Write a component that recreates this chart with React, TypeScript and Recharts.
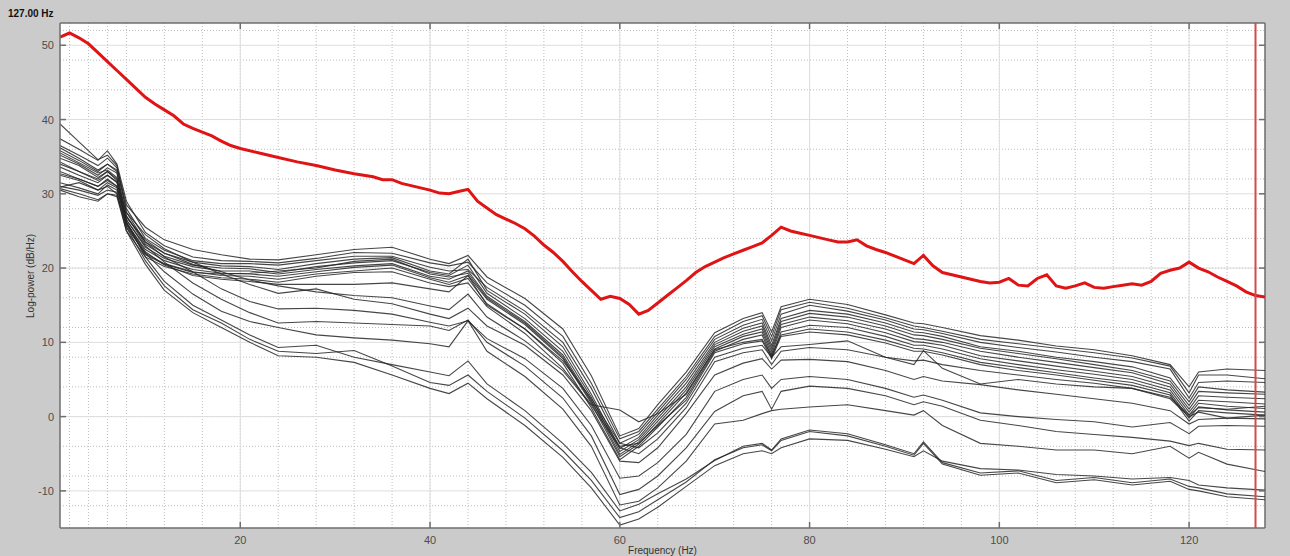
import React from 'react';
import { LineChart, Line, XAxis, YAxis, CartesianGrid, ReferenceLine } from 'recharts';

// Frequencies (Hz) at which the channel spectra are sampled
const freqs = [1, 3, 5, 6, 7, 8, 10, 12, 15, 18, 21, 24, 28, 32, 36, 40, 42, 44, 46, 50, 54, 57, 60, 62, 64, 67, 70, 73, 75, 76, 77, 80, 84, 88, 91, 92, 94, 98, 102, 106, 110, 114, 118, 120, 121, 124, 128];

// Channel log-power spectra (dB/Hz)
const ch01 = [36.5, 35.2, 33.8, 34.8, 33.5, 28.5, 25.5, 23.8, 22.5, 21.8, 21.2, 21.1, 21.8, 22.5, 22.8, 21.2, 20.6, 21.7, 18.8, 15.9, 11.8, 5.5, -2.6, -1.6, 1.6, 6.0, 11.3, 13.2, 14.0, 11.4, 14.8, 15.8, 15.1, 13.7, 12.6, 12.5, 12.0, 10.9, 10.3, 9.5, 9.0, 8.2, 7.0, 4.0, 6.0, 6.4, 6.2];
const ch02 = [37.4, 36.0, 34.5, 35.8, 34.0, 29.0, 24.8, 23.0, 21.5, 21.0, 20.9, 20.7, 21.3, 22.1, 22.0, 20.7, 20.3, 20.8, 18.0, 15.0, 10.8, 4.5, -3.0, -2.0, 1.0, 5.4, 10.8, 12.8, 13.6, 10.8, 14.4, 15.4, 14.6, 13.3, 12.2, 12.0, 11.5, 10.4, 9.8, 9.2, 8.6, 7.9, 6.8, 3.2, 5.6, 5.6, 5.1];
const ch03 = [35.8, 34.5, 33.0, 34.0, 33.2, 28.0, 24.0, 22.4, 21.0, 20.6, 20.6, 20.4, 21.0, 21.6, 21.6, 20.1, 19.6, 19.8, 17.4, 14.2, 10.0, 3.8, -3.6, -2.4, 0.6, 5.0, 10.4, 12.3, 13.1, 10.2, 13.8, 15.0, 14.2, 13.0, 11.8, 11.7, 11.2, 10.0, 9.3, 8.7, 8.0, 7.4, 6.4, 2.5, 4.6, 4.8, 4.6];
const ch04 = [39.4, 37.0, 34.6, 35.2, 33.8, 27.5, 23.5, 22.0, 20.8, 20.3, 20.2, 19.8, 20.6, 21.2, 21.4, 19.6, 19.2, 21.2, 17.0, 13.8, 9.4, 3.0, -4.3, -2.8, 0.2, 4.5, 10.0, 11.9, 12.6, 9.6, 13.2, 14.3, 13.8, 12.6, 11.4, 11.3, 10.8, 9.4, 8.8, 8.0, 7.4, 6.7, 5.2, 2.0, 4.0, 3.6, 3.3];
const ch05 = [35.2, 34.0, 32.5, 33.5, 32.8, 27.0, 23.2, 21.6, 20.4, 20.0, 19.9, 19.4, 20.2, 20.7, 21.0, 19.4, 19.0, 20.4, 16.6, 13.2, 8.8, 2.6, -4.7, -3.1, -0.2, 4.0, 9.7, 11.5, 12.2, 9.2, 12.8, 13.9, 13.4, 12.2, 11.0, 10.9, 10.4, 9.2, 8.5, 7.8, 7.0, 6.2, 4.8, 1.5, 3.4, 3.2, 3.0];
const ch06 = [34.3, 33.0, 32.0, 33.0, 32.0, 26.5, 22.8, 21.3, 20.2, 19.6, 19.6, 19.2, 19.8, 20.3, 20.6, 18.9, 18.5, 19.6, 16.2, 12.8, 8.3, 2.2, -5.1, -3.4, -0.6, 3.6, 9.4, 11.1, 11.8, 8.8, 12.4, 13.4, 12.9, 11.8, 10.5, 10.4, 10.0, 8.8, 8.0, 7.3, 6.6, 5.9, 4.4, 1.0, 2.8, 2.6, 2.4];
const ch07 = [33.6, 32.5, 31.5, 32.5, 31.6, 26.0, 22.5, 21.0, 19.8, 19.3, 19.2, 18.9, 19.5, 20.1, 20.4, 18.7, 18.1, 19.0, 15.8, 12.4, 7.8, 1.8, -5.4, -3.7, -1.0, 3.2, 9.1, 10.8, 11.4, 8.4, 12.0, 13.0, 12.5, 11.3, 10.1, 10.0, 9.6, 8.2, 7.5, 6.8, 6.1, 5.4, 4.0, 0.6, 2.2, 2.0, 1.7];
const ch08 = [32.7, 32.0, 31.0, 32.0, 31.0, 25.5, 22.0, 20.6, 19.5, 19.0, 18.9, 18.5, 19.2, 19.6, 20.0, 18.5, 17.8, 18.6, 15.2, 11.8, 7.2, 1.2, -5.8, -4.0, -1.4, 2.6, 8.8, 10.4, 11.0, 8.0, 11.4, 12.3, 12.0, 10.8, 9.6, 9.6, 9.1, 7.8, 7.0, 6.3, 5.7, 5.0, 3.6, 0.2, 1.8, 1.4, 1.1];
const ch09 = [30.9, 31.5, 30.5, 31.0, 30.0, 25.0, 21.5, 20.2, 19.2, 18.7, 18.5, 18.1, 18.9, 19.4, 19.5, 18.0, 17.5, 18.0, 14.8, 11.2, 6.5, 1.6, 0.9, -0.7, 0.4, 3.0, 9.0, 10.0, 10.4, 8.2, 11.0, 11.8, 11.4, 10.3, 9.2, 9.1, 8.6, 7.3, 6.6, 5.9, 5.2, 4.6, 3.2, -0.2, 1.3, 0.9, 0.6];
const ch10 = [35.5, 34.2, 32.8, 33.2, 32.2, 25.8, 21.8, 20.5, 19.4, 19.2, 19.3, 19.6, 20.0, 20.9, 21.2, 19.2, 18.8, 19.3, 16.0, 12.6, 8.0, 2.0, -4.0, -3.6, -1.2, 2.2, 8.6, 9.8, 10.2, 7.8, 10.8, 11.4, 11.0, 9.9, 8.8, 8.8, 8.3, 7.0, 6.2, 5.6, 4.9, 4.2, 2.9, -0.6, 0.8, 0.5, 0.2];
const ch11 = [36.2, 34.8, 33.2, 34.0, 33.0, 26.2, 22.2, 20.4, 19.0, 18.5, 18.2, 17.8, 17.8, 17.8, 18.0, 17.2, 16.8, 19.0, 15.0, 11.8, 7.5, 2.4, -3.6, -4.2, -2.2, 1.8, 8.0, 9.2, 9.6, 8.0, 9.4, 9.7, 10.2, 8.0, 7.0, 8.9, 6.5, 4.4, 5.0, 4.4, 4.0, 3.8, 2.6, 0.2, 1.2, 1.0, 1.4];
const ch12 = [34.0, 33.0, 31.8, 32.5, 31.5, 26.8, 23.8, 22.0, 20.5, 19.5, 18.4, 17.6, 16.8, 16.3, 16.0, 14.9, 14.4, 16.5, 13.4, 10.2, 6.2, 1.5, -4.2, -5.0, -3.0, 1.2, 7.4, 8.6, 9.0, 7.0, 8.8, 9.3, 9.0, 8.0, 7.5, 7.6, 7.0, 6.2, 5.6, 5.0, 4.5, 3.8, 2.4, 0.0, 0.6, -0.2, -0.3];
const ch13 = [34.8, 33.8, 32.2, 33.0, 31.8, 27.5, 24.5, 22.6, 20.8, 19.2, 17.8, 16.6, 17.2, 15.8, 15.2, 13.8, 13.2, 14.6, 12.2, 9.6, 5.6, 0.8, -6.0, -6.2, -4.2, 0.4, 5.6, 7.2, 7.8, 6.4, 7.6, 7.7, 7.4, 6.2, 5.0, 5.4, 4.8, 4.3, 3.6, 3.0, 2.4, 1.8, 0.8, -1.0, -0.4, -0.2, 0.2];
const ch14 = [33.0, 32.0, 31.0, 31.8, 31.0, 27.0, 23.5, 21.5, 19.5, 17.2, 15.5, 14.5, 14.6, 14.3, 13.8, 12.7, 12.2, 12.9, 10.5, 7.8, 3.8, -1.2, -8.3, -8.0, -6.2, -2.4, 3.4, 5.0, 5.6, 3.8, 5.0, 5.4, 5.0, 3.8, 2.6, 2.9, 2.2, 0.5, 0.0, -0.4, -0.7, -1.4, -0.8, -2.3, -1.3, -1.2, -1.3];
const ch15 = [31.5, 30.8, 30.0, 31.2, 30.5, 26.5, 23.0, 20.8, 18.0, 15.8, 14.0, 12.6, 12.8, 12.6, 12.4, 12.2, 11.6, 13.0, 10.0, 6.8, 2.5, -2.6, -10.5, -9.8, -8.0, -4.2, 0.7, 2.8, 3.4, 1.0, 3.4, 4.1, 3.8, 2.8, 1.6, 2.0, 1.4, -0.5, -1.2, -2.0, -2.4, -2.8, -3.3, -3.9, -3.6, -4.4, -4.5];
const ch16 = [30.7, 30.0, 29.2, 30.0, 29.8, 26.0, 22.0, 19.5, 16.5, 14.2, 12.8, 12.0, 11.0, 10.6, 10.3, 9.8, 9.4, 12.9, 8.8, 5.4, 1.0, -4.0, -11.9, -11.4, -9.6, -6.0, -1.0, -0.5, 0.4, 0.8, 1.0, 1.3, 1.6, 0.8, 0.2, 0.8, -1.2, -3.6, -4.0, -4.5, -4.5, -5.0, -4.0, -5.6, -4.8, -6.4, -7.4];
const ch17 = [32.5, 31.8, 30.5, 31.5, 30.8, 26.2, 21.5, 18.2, 15.0, 13.0, 11.0, 9.3, 9.6, 8.0, 7.0, 6.0, 5.5, 7.5, 4.4, 0.8, -3.6, -7.5, -12.7, -11.8, -10.4, -8.4, -5.9, -4.0, -3.6, -4.5, -3.0, -1.8, -2.3, -3.8, -5.0, -3.4, -6.2, -7.6, -7.3, -8.6, -8.2, -8.9, -8.4, -9.4, -9.6, -10.4, -10.8];
const ch18 = [31.0, 30.5, 29.8, 30.5, 30.2, 25.5, 21.0, 17.6, 14.4, 12.6, 10.4, 8.8, 8.5, 8.9, 6.8, 4.6, 4.2, 5.6, 3.4, -0.2, -4.6, -8.6, -13.6, -12.8, -11.2, -8.8, -5.8, -4.2, -3.8, -4.6, -3.2, -2.0, -2.6, -4.0, -5.2, -3.6, -6.4, -7.9, -7.6, -8.9, -8.5, -9.2, -8.7, -9.8, -10.0, -10.8, -11.2];
const ch19 = [30.5, 29.6, 29.0, 30.0, 29.6, 25.0, 20.5, 17.0, 14.0, 12.0, 10.0, 8.2, 8.0, 7.3, 5.6, 3.8, 3.1, 4.5, 2.4, -1.2, -5.5, -9.6, -14.6, -13.8, -12.2, -9.4, -6.6, -5.0, -4.6, -5.0, -4.2, -3.0, -3.2, -4.4, -5.4, -4.6, -6.0, -7.0, -7.2, -7.8, -8.0, -8.4, -8.2, -8.6, -9.2, -9.6, -9.9];

const channels = [ch01, ch02, ch03, ch04, ch05, ch06, ch07, ch08, ch09, ch10, ch11, ch12, ch13, ch14, ch15, ch16, ch17, ch18, ch19];

// Mean spectrum (red trace)
const redFreqs = [1, 2, 3, 4, 5, 6, 7, 8, 9, 10, 11, 12, 13, 14, 15, 16, 17, 18, 19, 20, 22, 24, 26, 28, 30, 32, 34, 35, 36, 37, 38, 39, 40, 41, 42, 43, 44, 45, 46, 47, 48, 49, 50, 51, 52, 53, 54, 55, 56, 57, 58, 59, 60, 61, 62, 63, 64, 65, 66, 67, 68, 69, 70, 71, 72, 73, 74, 75, 76, 77, 78, 79, 80, 81, 82, 83, 84, 85, 86, 87, 88, 89, 90, 91, 92, 93, 94, 95, 96, 97, 98, 99, 100, 101, 102, 103, 104, 105, 106, 107, 108, 109, 110, 111, 112, 113, 114, 115, 116, 117, 118, 119, 120, 121, 122, 123, 124, 125, 126, 127, 128];
const redPower = [51.1, 51.65, 51.0, 50.2, 49.0, 47.8, 46.6, 45.4, 44.2, 43.0, 42.1, 41.3, 40.5, 39.4, 38.8, 38.3, 37.8, 37.1, 36.5, 36.1, 35.5, 34.9, 34.3, 33.8, 33.2, 32.7, 32.3, 31.9, 31.9, 31.4, 31.1, 30.8, 30.5, 30.1, 30.0, 30.3, 30.6, 29.0, 28.1, 27.2, 26.6, 26.0, 25.3, 24.3, 23.1, 22.1, 20.9, 19.5, 18.2, 17.0, 15.8, 16.2, 15.9, 15.1, 13.8, 14.3, 15.3, 16.3, 17.3, 18.3, 19.4, 20.2, 20.8, 21.4, 21.9, 22.4, 22.9, 23.4, 24.4, 25.5, 25.0, 24.7, 24.4, 24.1, 23.8, 23.5, 23.5, 23.8, 23.0, 22.5, 22.1, 21.6, 21.1, 20.6, 21.7, 20.3, 19.4, 19.1, 18.8, 18.5, 18.2, 18.0, 18.1, 18.6, 17.7, 17.6, 18.6, 19.1, 17.6, 17.3, 17.6, 18.0, 17.4, 17.3, 17.5, 17.7, 17.9, 17.7, 18.2, 19.3, 19.7, 20.0, 20.8, 20.0, 19.5, 18.8, 18.2, 17.6, 16.8, 16.3, 16.1];

const xTicks = [20, 40, 60, 80, 100, 120];
const yTicks = [-10, 0, 10, 20, 30, 40, 50];
const xMinor = Array.from({ length: 64 }, (_, i) => 2 + 2 * i);
const yMinor = Array.from({ length: 34 }, (_, i) => -14 + 2 * i);
const cursorFreq = 127;
const titleText = '127.00 Hz';

const tableData = freqs.map((f, i) => {
  const row: Record<string, number> = { f };
  channels.forEach((c, j) => {
    row['ch' + j] = c[i];
  });
  return row;
});
const redData = redFreqs.map((f, i) => ({ f, p: redPower[i] }));

const W = 1290;
const H = 556;
const PLOT_LEFT = 60;
const PLOT_RIGHT = 1265;
const PLOT_TOP = 23;
const PLOT_BOTTOM = 528;
const FONT = '"Liberation Sans", Arial, Helvetica, sans-serif';
const AXIS = '#6e6e6e';
const LABEL = '#4d4d4d';

const XTick = (props: any) => {
  const { x, payload } = props;
  return (
    <g>
      <line x1={x} x2={x} y1={PLOT_BOTTOM} y2={PLOT_BOTTOM - 6} stroke={AXIS} strokeWidth={1.5} />
      <line x1={x} x2={x} y1={PLOT_TOP} y2={PLOT_TOP + 6} stroke={AXIS} strokeWidth={1.5} />
      <text x={x} y={PLOT_BOTTOM + 16} textAnchor="middle" fontSize={11} fill={LABEL} fontFamily={FONT}>
        {payload.value}
      </text>
    </g>
  );
};

const YTick = (props: any) => {
  const { y, payload } = props;
  return (
    <g>
      <line x1={PLOT_LEFT} x2={PLOT_LEFT + 6} y1={y} y2={y} stroke={AXIS} strokeWidth={1.5} />
      <line x1={PLOT_RIGHT} x2={PLOT_RIGHT - 6} y1={y} y2={y} stroke={AXIS} strokeWidth={1.5} />
      <text x={PLOT_LEFT - 6} y={y + 4} textAnchor="end" fontSize={11} fill={LABEL} fontFamily={FONT}>
        {payload.value}
      </text>
    </g>
  );
};

export default function App() {
  return (
    <div style={{ position: 'relative', width: W, height: H, background: '#cbcbcb', overflow: 'hidden' }}>
      <style>{'body{margin:0;}'}</style>
      <LineChart
        width={W}
        height={H}
        data={tableData}
        margin={{ top: PLOT_TOP, right: W - PLOT_RIGHT, left: 0, bottom: 0 }}
      >
        <CartesianGrid
          fill="#ffffff"
          stroke="#bdbdbd"
          strokeDasharray="1 2"
          horizontalValues={yMinor}
          verticalValues={xMinor}
        />
        <CartesianGrid
          stroke="#dedede"
          strokeWidth={1}
          horizontalValues={yTicks}
          verticalValues={xTicks}
        />
        <XAxis
          dataKey="f"
          type="number"
          domain={[1, 128]}
          allowDataOverflow
          ticks={xTicks}
          height={H - PLOT_BOTTOM}
          tickSize={0}
          tickMargin={0}
          tickLine={false}
          axisLine={{ stroke: AXIS, strokeWidth: 1.5 }}
          tick={<XTick />}
        />
        <YAxis
          type="number"
          domain={[-15, 53]}
          allowDataOverflow
          ticks={yTicks}
          width={PLOT_LEFT}
          tickSize={0}
          tickMargin={0}
          tickLine={false}
          axisLine={{ stroke: AXIS, strokeWidth: 1.5 }}
          tick={<YTick />}
        />
        <ReferenceLine x={128} stroke={AXIS} strokeWidth={1.5} />
        <ReferenceLine y={53} stroke={AXIS} strokeWidth={1.5} />
        {channels.map((_, j) => (
          <Line
            key={'ch' + j}
            dataKey={'ch' + j}
            type="linear"
            stroke="#262626"
            strokeOpacity={0.85}
            strokeWidth={1.1}
            dot={false}
            activeDot={false}
            isAnimationActive={false}
          />
        ))}
        <Line
          data={redData}
          dataKey="p"
          type="linear"
          stroke="#e01414"
          strokeWidth={3}
          dot={false}
          activeDot={false}
          isAnimationActive={false}
        />
        <ReferenceLine x={cursorFreq} stroke="#d44a4a" strokeWidth={2} />
      </LineChart>
      <div
        style={{
          position: 'absolute',
          left: 8,
          top: 8,
          fontFamily: FONT,
          fontWeight: 'bold',
          fontSize: 10,
          color: '#111',
          lineHeight: '12px',
        }}
      >
        {titleText}
      </div>
      <div
        style={{
          position: 'absolute',
          left: 30,
          top: 276,
          transform: 'translate(-50%, -50%) rotate(-90deg)',
          fontFamily: FONT,
          fontSize: 10,
          color: '#333',
          whiteSpace: 'nowrap',
        }}
      >
        Log-power (dB/Hz)
      </div>
      <div
        style={{
          position: 'absolute',
          left: (PLOT_LEFT + PLOT_RIGHT) / 2,
          top: 545,
          transform: 'translateX(-50%)',
          fontFamily: FONT,
          fontSize: 10,
          color: '#333',
          whiteSpace: 'nowrap',
          lineHeight: '12px',
        }}
      >
        Frequency (Hz)
      </div>
    </div>
  );
}
